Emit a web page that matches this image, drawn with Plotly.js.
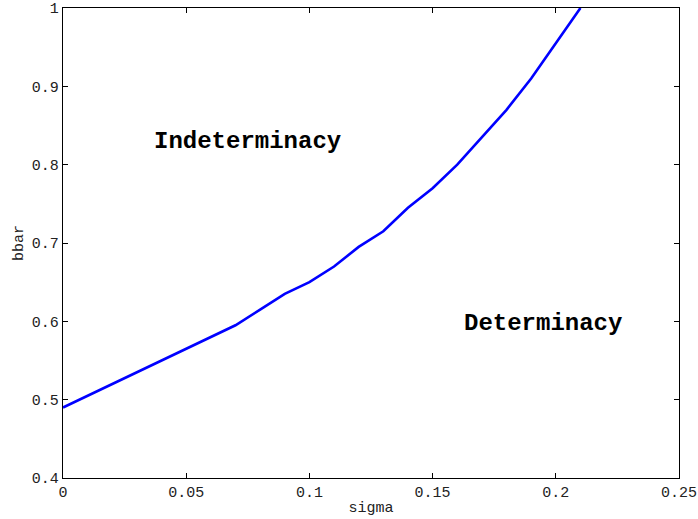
<!DOCTYPE html>
<html>
<head>
<meta charset="utf-8">
<script src="https://cdn.plot.ly/plotly-3.0.1.min.js"></script>
<style>html,body{margin:0;padding:0;background:#fff;}#chart{width:698px;height:519px;}</style>
</head>
<body>
<div id="chart"></div>
<script>
const sigma = [0, 0.01, 0.02, 0.03, 0.04, 0.05, 0.06, 0.07, 0.08, 0.09, 0.10, 0.11, 0.12, 0.13, 0.14, 0.15, 0.16, 0.17, 0.18, 0.19, 0.20, 0.21];
const bbar  = [0.49, 0.505, 0.52, 0.535, 0.55, 0.565, 0.58, 0.595, 0.615, 0.635, 0.65, 0.67, 0.695, 0.715, 0.745, 0.77, 0.80, 0.835, 0.87, 0.91, 0.955, 1.0];
const xTicks = [0, 0.05, 0.1, 0.15, 0.2, 0.25];
const xTickLabels = ['0', '0.05', '0.1', '0.15', '0.2', '0.25'];
const yTicks = [0.4, 0.5, 0.6, 0.7, 0.8, 0.9, 1];
const yTickLabels = ['0.4', '0.5', '0.6', '0.7', '0.8', '0.9', '1'];
const regionLabels = ['Indeterminacy', 'Determinacy'];
const regionX = [0.0747, 0.1948];
const regionY = [0.830, 0.597];

const mono = '"Liberation Mono", "DejaVu Sans Mono", monospace';
const axisCommon = {
  showgrid: false, zeroline: false, showline: true, linecolor: '#000', linewidth: 1.3,
  mirror: 'ticks', ticks: 'inside', ticklen: 5, tickcolor: '#000', tickwidth: 1,
  tickfont: {family: mono, size: 15, color: '#222'}, tickmode: 'array'
};
const data = [{
  x: sigma, y: bbar, type: 'scatter', mode: 'lines',
  line: {color: '#0000ff', width: 2.6}, hoverinfo: 'none'
}];
const layout = {
  width: 698, height: 519,
  margin: {l: 63, r: 19, t: 8, b: 41},
  paper_bgcolor: '#fff', plot_bgcolor: '#fff', showlegend: false,
  xaxis: Object.assign({}, axisCommon, {range: [0, 0.25], tickvals: xTicks, ticktext: xTickLabels,
    title: {text: 'sigma', font: {family: mono, size: 15, color: '#222'}, standoff: 0}}),
  yaxis: Object.assign({}, axisCommon, {range: [0.4, 1], tickvals: yTicks, ticktext: yTickLabels,
    title: {text: 'bbar', font: {family: mono, size: 15, color: '#222'}, standoff: 4}}),
  annotations: regionLabels.map((t, i) => ({
    x: regionX[i], y: regionY[i], xref: 'x', yref: 'y', text: '<b>' + t + '</b>', showarrow: false,
    font: {family: mono, size: 24, color: '#000'}, xanchor: 'center', yanchor: 'middle'
  }))
};
Plotly.newPlot('chart', data, layout, {staticPlot: true, displayModeBar: false});
</script>
</body>
</html>
